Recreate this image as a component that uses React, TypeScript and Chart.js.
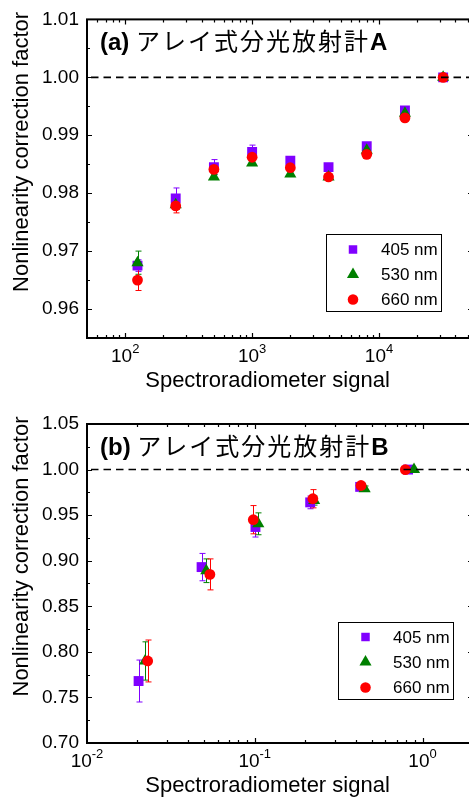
import React, { useEffect, useRef } from 'react';
import { Chart, registerables } from 'chart.js';
Chart.register(...registerables);

const FONT = '"Liberation Sans", Arial, sans-serif';
const JP_FONT = '"Noto Sans CJK JP", "Noto Sans CJK SC", sans-serif';

const seriesLabels = ['405 nm', '530 nm', '660 nm'];
const seriesColors = ['#8000ff', '#008000', '#ff0000'];
const seriesShapes = ['rect', 'triangle', 'circle'];
const seriesRadius = [7, 7, 5.4];

// ---- Panel (a) data ----
const xA = [125, 250, 500, 1000, 2000, 4000, 8000, 16000, 32000];
const a405 = [0.9675, 0.9791, 0.9845, 0.9871, 0.9856, 0.9845, 0.9881, 0.9943, 1.0];
const a405err = [0.001, 0.0018, 0.0013, 0.0012, 0.0004, 0.0004, 0.0005, 0.0004, 0];
const a530 = [0.968, 0.978, 0.9828, 0.9852, 0.9833, 0.9828, 0.9874, 0.9938, 1.0];
const a530err = [0.002, 0.0008, 0.0004, 0.0004, 0.0004, 0.0004, 0.0004, 0.0004, 0];
const a660 = [0.965, 0.9778, 0.9841, 0.9862, 0.9844, 0.9828, 0.9867, 0.993, 1.0];
const a660err = [0.0018, 0.0012, 0.0005, 0.0005, 0.0004, 0.0004, 0.0004, 0.0004, 0];
const yTicksA = [0.96, 0.97, 0.98, 0.99, 1.0, 1.01];
const xMajorA = [100, 1000, 10000];
const xExpA = ['2', '3', '4'];

// ---- Panel (b) data ----
const b405x = [0.0203, 0.0482, 0.101, 0.214, 0.425, 0.82];
const b405 = [0.768, 0.893, 0.937, 0.964, 0.981, 1.0];
const b405err = [0.023, 0.015, 0.011, 0.007, 0.003, 0];
const b530x = [0.0222, 0.0514, 0.105, 0.226, 0.452, 0.89];
const b530 = [0.79, 0.889, 0.9405, 0.966, 0.979, 1.0];
const b530err = [0.021, 0.013, 0.012, 0.005, 0.003, 0];
const b660x = [0.023, 0.054, 0.098, 0.222, 0.43, 0.79];
const b660 = [0.79, 0.885, 0.945, 0.968, 0.9825, 1.0];
const b660err = [0.023, 0.017, 0.0155, 0.01, 0.003, 0];
const yTicksB = [0.7, 0.75, 0.8, 0.85, 0.9, 0.95, 1.0, 1.05];
const xMajorB = [0.01, 0.1, 1];
const xExpB = ['-2', '-1', '0'];

const yTitle = 'Nonlinearity correction factor';
const xTitle = 'Spectroradiometer signal';

type Series = { x: number[]; y: number[]; err: number[] };
type PanelCfg = {
  tag: string; jp: string; suffix: string;
  xMin: number; xMax: number; yMin: number; yMax: number;
  yTicks: number[]; xMajor: number[]; xExp: string[];
  series: Series[];
  padTop: number; xHeight: number;
  legend: { x: number; y: number; w: number; h: number; mx: number; tx: number; rows: number[] };
};

const panelA: PanelCfg = {
  tag: '(a) ', jp: 'アレイ式分光放射計', suffix: 'A',
  xMin: 50, xMax: 55000, yMin: 0.955, yMax: 1.01,
  yTicks: yTicksA, xMajor: xMajorA, xExp: xExpA,
  series: [
    { x: xA, y: a405, err: a405err },
    { x: xA, y: a530, err: a530err },
    { x: xA, y: a660, err: a660err },
  ],
  padTop: 19, xHeight: 62,
  legend: { x: 326.5, y: 234.5, w: 115, h: 77, mx: 353, tx: 381, rows: [249.5, 274.5, 299.5] },
};

const panelB: PanelCfg = {
  tag: '(b) ', jp: 'アレイ式分光放射計', suffix: 'B',
  xMin: 0.01, xMax: 2, yMin: 0.7, yMax: 1.05,
  yTicks: yTicksB, xMajor: xMajorB, xExp: xExpB,
  series: [
    { x: b405x, y: b405, err: b405err },
    { x: b530x, y: b530, err: b530err },
    { x: b660x, y: b660, err: b660err },
  ],
  padTop: 24, xHeight: 57,
  legend: { x: 338.5, y: 222.5, w: 115, h: 77, mx: 365.5, tx: 393, rows: [237, 262, 287.5] },
};

function drawMarker(ctx: CanvasRenderingContext2D, shape: string, x: number, y: number, r: number, color: string) {
  ctx.save();
  ctx.fillStyle = color;
  ctx.beginPath();
  if (shape === 'rect') {
    const s = Math.SQRT1_2 * r;
    ctx.rect(x - s, y - s, 2 * s, 2 * s);
  } else if (shape === 'triangle') {
    ctx.moveTo(x, y - r);
    ctx.lineTo(x + 0.866 * r, y + 0.5 * r);
    ctx.lineTo(x - 0.866 * r, y + 0.5 * r);
    ctx.closePath();
  } else {
    ctx.arc(x, y, r, 0, Math.PI * 2);
  }
  ctx.fill();
  ctx.restore();
}

function makePlugin(cfg: PanelCfg) {
  return {
    id: 'customDeco',
    beforeDatasetsDraw(chart: any) {
      const { ctx } = chart;
      const xs = chart.scales.x, ys = chart.scales.y;
      ctx.save();
      ctx.lineWidth = 1;
      cfg.series.forEach((s, i) => {
        ctx.strokeStyle = seriesColors[i];
        s.x.forEach((xv, j) => {
          const e = s.err[j];
          if (!e) return;
          const px = Math.round(xs.getPixelForValue(xv)) + 0.5;
          const p1 = ys.getPixelForValue(s.y[j] + e);
          const p2 = ys.getPixelForValue(s.y[j] - e);
          ctx.beginPath();
          ctx.moveTo(px, p1); ctx.lineTo(px, p2);
          ctx.moveTo(px - 3, p1); ctx.lineTo(px + 3, p1);
          ctx.moveTo(px - 3, p2); ctx.lineTo(px + 3, p2);
          ctx.stroke();
        });
      });
      ctx.restore();
    },
    afterDatasetsDraw(chart: any) {
      const { ctx, chartArea } = chart;
      const ys = chart.scales.y;
      const py = ys.getPixelForValue(1.0);
      ctx.save();
      ctx.strokeStyle = '#000';
      ctx.lineWidth = 1.6;
      ctx.setLineDash([7.5, 5]);
      ctx.beginPath();
      ctx.moveTo(chartArea.left + 4, py);
      ctx.lineTo(chartArea.right, py);
      ctx.stroke();
      ctx.restore();
    },
    afterDraw(chart: any) {
      const { ctx, chartArea } = chart;
      const { left, right, top, bottom } = chartArea;
      const xs = chart.scales.x, ys = chart.scales.y;
      ctx.save();
      ctx.fillStyle = '#000';
      ctx.strokeStyle = '#000';

      // ticks
      ctx.lineWidth = 1.2;
      ctx.beginPath();
      const yMajor = cfg.yTicks;
      const step = yMajor[1] - yMajor[0];
      const yMinor: number[] = [];
      for (let v = yMajor[0] - step / 2; v < cfg.yMax; v += step) {
        if (v > cfg.yMin + 1e-9 && v < cfg.yMax - 1e-9) yMinor.push(v);
      }
      yMajor.forEach((v) => {
        const py = Math.round(ys.getPixelForValue(v)) + 0.5;
        ctx.moveTo(left, py); ctx.lineTo(left + 5, py);
        ctx.moveTo(right, py); ctx.lineTo(right - 5, py);
      });
      yMinor.forEach((v) => {
        const py = Math.round(ys.getPixelForValue(v)) + 0.5;
        ctx.moveTo(left, py); ctx.lineTo(left + 3, py);
        ctx.moveTo(right, py); ctx.lineTo(right - 3, py);
      });
      const d0 = Math.floor(Math.log10(cfg.xMin));
      const d1 = Math.ceil(Math.log10(cfg.xMax));
      for (let d = d0; d <= d1; d++) {
        for (let k = 1; k <= 9; k++) {
          const v = k * Math.pow(10, d);
          if (v <= cfg.xMin * 1.0001 || v >= cfg.xMax) continue;
          const px = Math.round(xs.getPixelForValue(v)) + 0.5;
          const len = k === 1 ? 5 : 3;
          ctx.moveTo(px, bottom); ctx.lineTo(px, bottom - len);
          ctx.moveTo(px, top); ctx.lineTo(px, top + len);
        }
      }
      ctx.stroke();

      // frame
      ctx.lineWidth = 2;
      ctx.strokeRect(left, top, right - left, bottom - top);

      // x tick labels with superscripts
      ctx.textBaseline = 'alphabetic';
      ctx.textAlign = 'left';
      const baseY = bottom + 23.7;
      cfg.xMajor.forEach((v, i) => {
        const px = xs.getPixelForValue(v);
        ctx.font = `19px ${FONT}`;
        const w10 = ctx.measureText('10').width;
        ctx.font = `13px ${FONT}`;
        const we = ctx.measureText(cfg.xExp[i]).width;
        const x0 = px - (w10 + we) / 2;
        ctx.font = `19px ${FONT}`;
        ctx.fillText('10', x0, baseY);
        ctx.font = `13px ${FONT}`;
        ctx.fillText(cfg.xExp[i], x0 + w10, baseY - 8.5);
      });

      // axis titles
      ctx.font = `22px ${FONT}`;
      ctx.textAlign = 'center';
      ctx.fillText(xTitle, 267.5, bottom + 49);
      ctx.save();
      ctx.translate(22, top + 132.5);
      ctx.rotate(-Math.PI / 2);
      ctx.textBaseline = 'middle';
      ctx.fillText(yTitle, 0, 0);
      ctx.restore();

      // panel title
      ctx.textAlign = 'left';
      ctx.textBaseline = 'alphabetic';
      const ty = top + 30.5;
      let tx = 100;
      ctx.font = `bold 24px ${FONT}`;
      ctx.fillText(cfg.tag, tx, ty);
      tx += ctx.measureText(cfg.tag).width;
      ctx.font = `24px ${JP_FONT}`;
      (ctx as any).letterSpacing = '2px';
      ctx.fillText(cfg.jp, tx, ty);
      tx += ctx.measureText(cfg.jp).width;
      (ctx as any).letterSpacing = '0px';
      ctx.font = `bold 24px ${FONT}`;
      ctx.fillText(cfg.suffix, tx, ty);

      // legend
      const L = cfg.legend;
      ctx.fillStyle = '#fff';
      ctx.fillRect(L.x, L.y, L.w, L.h);
      ctx.strokeStyle = '#000';
      ctx.lineWidth = 1;
      ctx.strokeRect(L.x, L.y, L.w, L.h);
      ctx.font = `17px ${FONT}`;
      ctx.textBaseline = 'middle';
      ctx.textAlign = 'left';
      chart.data.datasets.forEach((ds: any, i: number) => {
        const ry = L.rows[i];
        const r = seriesShapes[i] === 'rect' ? 6 : seriesShapes[i] === 'triangle' ? 7 : 5.3;
        drawMarker(ctx, seriesShapes[i], L.mx, ry, r, seriesColors[i]);
        ctx.fillStyle = '#000';
        ctx.fillText(ds.label, L.tx, ry + 1);
      });
      ctx.restore();
    },
  };
}

function Panel({ cfg }: { cfg: PanelCfg }) {
  const ref = useRef<HTMLCanvasElement>(null);
  useEffect(() => {
    const canvas = ref.current!;
    const chart = new Chart(canvas, {
      type: 'scatter',
      data: {
        datasets: cfg.series.map((s, i) => ({
          label: seriesLabels[i],
          data: s.x.map((xv, j) => ({ x: xv, y: s.y[j] })),
          pointStyle: seriesShapes[i] as any,
          pointRadius: seriesRadius[i],
          pointHoverRadius: seriesRadius[i],
          backgroundColor: seriesColors[i],
          borderColor: seriesColors[i],
          borderWidth: 0,
          showLine: false,
          order: 2 - i,
        })),
      },
      options: {
        animation: false,
        responsive: false,
        maintainAspectRatio: false,
        devicePixelRatio: 1,
        layout: { padding: { left: 0, right: 6, top: cfg.padTop, bottom: 0 } },
        plugins: { legend: { display: false }, tooltip: { enabled: false } },
        scales: {
          x: {
            type: 'logarithmic',
            min: cfg.xMin,
            max: cfg.xMax,
            ticks: { display: false },
            grid: { display: false, drawTicks: false },
            border: { display: false },
            afterFit: (s: any) => { s.height = cfg.xHeight; },
          } as any,
          y: {
            type: 'linear',
            min: cfg.yMin,
            max: cfg.yMax,
            afterBuildTicks: (s: any) => { s.ticks = cfg.yTicks.map((v) => ({ value: v })); },
            ticks: {
              padding: 8,
              color: '#000',
              font: { size: 19, family: FONT },
              callback: (v: any) => Number(v).toFixed(2),
            },
            grid: { display: false, drawTicks: false },
            border: { display: false },
            afterFit: (s: any) => { s.width = 87; },
          } as any,
        },
      },
      plugins: [makePlugin(cfg)],
    });
    return () => chart.destroy();
  }, [cfg]);
  return <canvas ref={ref} width={480} height={400} style={{ display: 'block', width: 480, height: 400 }} />;
}

export default function App() {
  return (
    <div style={{ position: 'fixed', left: 0, top: 0, width: 469, height: 801, overflow: 'hidden', background: '#fff' }}>
      <Panel cfg={panelA} />
      <Panel cfg={panelB} />
    </div>
  );
}
